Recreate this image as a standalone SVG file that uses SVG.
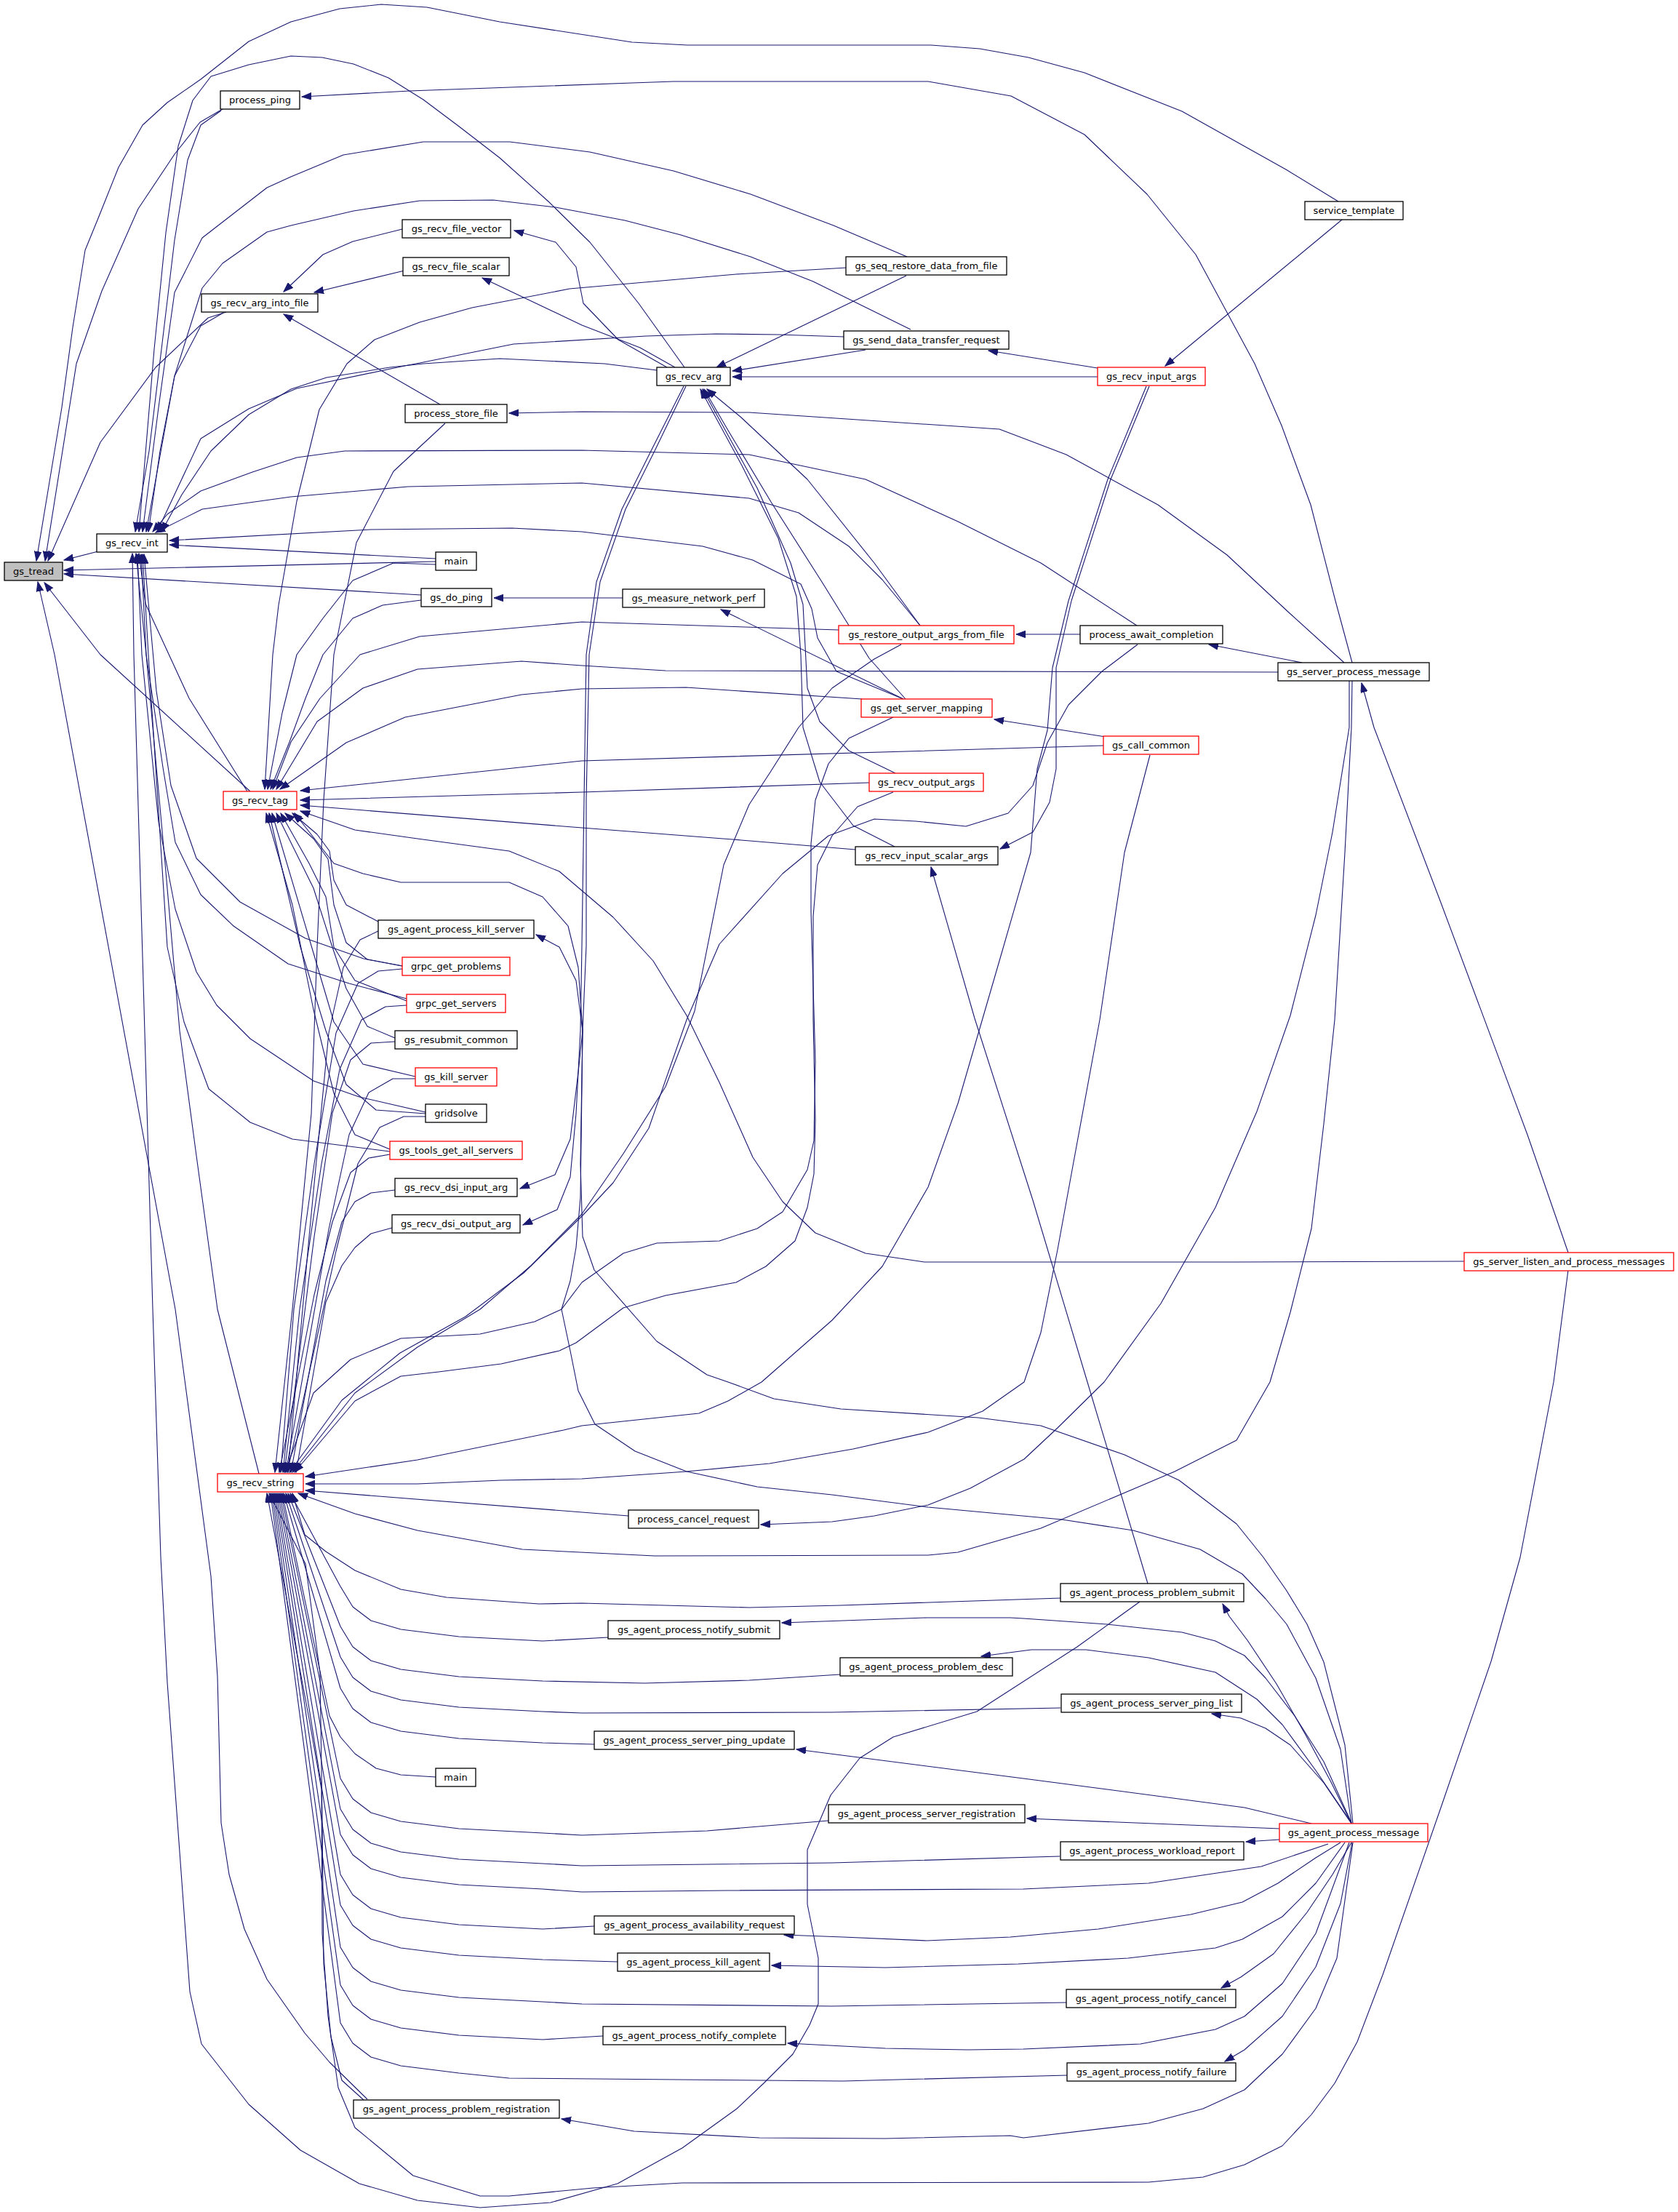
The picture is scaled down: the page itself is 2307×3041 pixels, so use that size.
<svg xmlns="http://www.w3.org/2000/svg" width="2307" height="3041" viewBox="0 0 2307 3041">
<style>
.n rect{fill:#fff;stroke:#000;stroke-width:1.3}
.r rect{fill:#fff;stroke:#ff0000;stroke-width:1.3}
.root rect{fill:#bfbfbf;stroke:#000;stroke-width:1.3}
text{font-family:"DejaVu Sans","Liberation Sans",sans-serif;font-size:13px;fill:#000;text-anchor:middle}
#edges path{fill:none;stroke:#191970;stroke-width:1.1;stroke-linejoin:round;marker-end:url(#a)}
</style>
<defs>
<marker id="a" markerWidth="14" markerHeight="10" refX="13" refY="4.75" orient="auto" markerUnits="userSpaceOnUse"><path d="M0,0L13,4.75L0,9.5z" fill="#191970" stroke="#191970" stroke-width="1"/></marker>
</defs>
<rect width="2307" height="3041" fill="#fff"/>
<g id="edges">
<!-- to gs_tread -->
<path d="M135,758L88,770"/>
<path d="M599,772L88,784"/>
<path d="M579,818L88,789"/>
<path d="M344,1088L138,900L61,801"/>
<path d="M505,2886L453,2835L419,2795L367,2721L336,2652L315,2577L304,2506L299,2305L290,2167L241,1800L75,900L52,800"/>
<path d="M306,150L275,168L240,212L190,287L140,400L105,500L62,771"/>
<path d="M311,429L286,437L214,505L138,608L66,771"/>
<path d="M1840,277L1768,233L1625,153L1491,100L1414,79L1347,67L1280,62L945,62L869,58L687,30L587,10L524,6L467,12L400,30L342,57L276,109L230,141L196,172L163,230L135,300L117,344L100,450L85,560L50,771"/>
<!-- to gs_recv_int -->
<path d="M304,152L276,172L258,220L240,330L222,480L205,620L186,731"/>
<path d="M941,505L878,417L811,333L754,277L687,217L630,173L582,137L534,107L486,88L443,79L400,77L342,89L290,105L265,138L245,201L228,320L212,480L191,731"/>
<path d="M1247,353L1146,310L1032,267L926,235L811,209L701,195L582,195L472,213L400,243L367,258L278,327L240,402L218,560L196,731"/>
<path d="M1252,453L1118,387L1032,353L936,323L859,303L764,285L678,275L577,276L486,290L400,310L367,319L306,362L278,396L240,517L201,731"/>
<path d="M1161,463L1070,460L984,459L888,462L706,473L572,500L561,502L408,534L342,562L276,603L216,731"/>
<path d="M903,509L831,500L687,493L582,500L536,505L449,519L400,535L342,570L290,620L250,680L222,731"/>
<path d="M1563,860L1431,774L1317,717L1190,659L1030,625L800,619L474,620L408,629L347,649L276,675L230,707L210,731"/>
<path d="M1265,860L1213,797L1167,751L1098,705L1030,685L800,664L561,669L400,683L278,700L214,732"/>
<path d="M307,430L276,448L240,517L220,620L204,731"/>
<path d="M599,768L233,749"/>
<path d="M1242,961L1150,923L1124,877L1116,837L1101,803L1035,770L966,751L800,731L704,726L510,728L233,743"/>
<path d="M1567,2202L1481,2264L1343,2353L1228,2388L1182,2417L1142,2468L1110,2543L1110,2618L1125,2692L1125,2755L1113,2784L1090,2824L1050,2864L1013,2899L938,2953L849,3002L757,3028L660,3035L574,3025L494,3002L413,2956L342,2893L277,2810L261,2738L230,2313L221,2141L210,1800L184,900L182,761"/>
<path d="M340,1088L260,960L200,830L191,761"/>
<path d="M356,2026L299,1800L270,1589L247,1417L227,1187L201,900L187,761"/>
<path d="M553,1328L500,1318L420,1290L330,1240L270,1180L235,1080L215,950L198,762"/>
<path d="M559,1373L480,1352L396,1325L321,1273L276,1230L241,1158L224,1055L201,900L194,762"/>
<path d="M585,1529L494,1508L431,1486L344,1428L298,1382L270,1336L241,1250L218,1130L195,900L189,762"/>
<path d="M536,1583L402,1566L344,1543L287,1497L253,1405L230,1302L204,900L196,762"/>
<!-- to gs_recv_tag -->
<path d="M1517,1025L800,1046L413,1087"/>
<path d="M1195,1076L800,1089L413,1100"/>
<path d="M1176,1168L1007,1154L800,1138L413,1107"/>
<path d="M1757,924L915,922L800,915L717,909L574,920L499,946L436,992L380,1085"/>
<path d="M1185,961L943,945L800,947L717,955L557,986L476,1021L385,1085"/>
<path d="M1153,866L800,855L577,875L495,900L440,960L400,1020L375,1085"/>
<path d="M599,776L541,774L485,798L444,850L408,900L388,980L368,1085"/>
<path d="M579,825L526,832L485,850L444,900L420,960L398,1020L372,1085"/>
<path d="M1164,368L1012,377L898,387L783,397L649,423L577,443L515,467L477,500L439,563L408,689L383,832L375,900L364,1085"/>
<path d="M2013,1734L1700,1735L1271,1735L1190,1723L1121,1695L1076,1652L1035,1591L989,1488L944,1396L898,1321L843,1261L769,1198L700,1170L574,1153L488,1141L413,1115"/>
<path d="M1860,2507L1849,2399L1820,2285L1797,2233L1769,2187L1737,2141L1700,2095L1621,2035L1546,2000L1431,1960L1345,1949L1156,1937L1064,1923L1001,1900L972,1890L903,1844L817,1746L801,1700L798,1600L801,1417L795,1330L781,1273L746,1233L700,1213L551,1213L499,1201L459,1187L405,1118"/>
<path d="M520,1267L476,1244L459,1210L453,1170L436,1147L402,1118"/>
<path d="M553,1328L505,1319L476,1296L459,1244L451,1181L431,1153L392,1118"/>
<path d="M559,1376L488,1348L459,1302L448,1233L425,1187L386,1118"/>
<path d="M543,1427L505,1411L476,1359L453,1290L431,1221L380,1118"/>
<path d="M571,1480L499,1463L459,1405L425,1290L374,1118"/>
<path d="M585,1531L517,1526L476,1491L448,1417L413,1302L370,1118"/>
<path d="M536,1580L488,1560L459,1503L431,1388L402,1244L366,1118"/>
<!-- to gs_recv_string (top/right) -->
<path d="M612,582L541,648L490,746L459,900L445,1100L436,1302L428,1531L402,1800L378,2024"/>
<path d="M1239,886L1202,906L1144,946L1098,1000L1060,1060L1030,1106L995,1189L955,1390L915,1494L857,1586L800,1669L730,1740L660,1800L574,1852L488,1915L402,2024"/>
<path d="M1564,886L1515,923L1469,969L1440,1021L1420,1080L1386,1118L1328,1136L1259,1129L1202,1126L1139,1149L1076,1201L989,1298L944,1402L892,1551L843,1626L800,1672L720,1750L640,1810L550,1860L470,1925L398,2024"/>
<path d="M1228,986L1167,1015L1139,1050L1121,1100L1115,1160L1115,1253L1121,1459L1119,1568L1110,1608L1076,1666L1041,1689L989,1706L903,1709L857,1723L800,1763L772,1800L735,1817L660,1834L551,1840L482,1869L431,1915L392,2024"/>
<path d="M1228,1089L1179,1109L1144,1149L1124,1189L1118,1260L1118,1402L1121,1540L1119,1614L1110,1660L1093,1706L1053,1741L1012,1763L915,1781L857,1798L792,1846L769,1857L689,1875L603,1886L551,1892L488,1926L405,2024"/>
<path d="M1576,531L1523,659L1469,826L1447,918L1440,1004L1426,1057L1417,1172L1374,1321L1317,1517L1276,1632L1213,1741L1144,1815L1047,1900L1001,1926L961,1943L800,1960L775,1966L574,2007L420,2030"/>
<path d="M1581,1038L1546,1172L1512,1402L1475,1603L1454,1718L1431,1832L1408,1900L1351,1940L1276,1969L1173,1992L1058,2012L944,2023L800,2033L689,2035L574,2040L420,2040"/>
<path d="M864,2084L420,2049"/>
<path d="M520,1280L495,1292L472,1330L452,1420L425,1700L396,2024"/>
<path d="M553,1332L520,1335L492,1352L462,1420L432,1600L404,1800L386,2024"/>
<path d="M559,1382L530,1384L497,1402L467,1470L442,1600L412,1800L389,2024"/>
<path d="M543,1432L510,1434L482,1457L457,1530L432,1700L391,2024"/>
<path d="M571,1483L540,1483L507,1502L480,1560L452,1690L393,2024"/>
<path d="M585,1535L555,1535L522,1550L492,1600L462,1720L395,2024"/>
<path d="M536,1587L507,1592L482,1612L457,1680L432,1780L384,2024"/>
<path d="M543,1636L510,1640L488,1652L470,1680L448,1761L400,2024"/>
<path d="M539,1688L510,1696L488,1715L470,1740L448,1790L407,2024"/>
<!-- to gs_recv_string (bottom) -->
<path d="M1859,936L1858,1000L1849,1172L1835,1402L1820,1545L1803,1689L1774,1804L1746,1900L1700,1980L1615,2023L1431,2101L1317,2134L1276,2138L900,2139L718,2130L574,2104L488,2081L410,2053"/>
<path d="M1458,2197L1156,2207L1030,2210L800,2204L741,2205L614,2196L551,2185L488,2159L448,2133L419,2110L402,2053"/>
<path d="M836,2251L746,2256L631,2250L551,2240L510,2228L485,2209L468,2181L399,2053"/>
<path d="M1155,2302L1030,2310L886,2314L746,2311L631,2305L551,2295L510,2283L485,2264L468,2236L396,2053"/>
<path d="M1458,2348L1144,2354L800,2355L746,2353L631,2347L551,2337L510,2325L485,2306L468,2278L393,2053"/>
<path d="M817,2398L746,2396L631,2390L551,2380L510,2368L485,2349L468,2321L390,2053"/>
<path d="M599,2443L551,2440L517,2431L488,2411L468,2388L453,2359L388,2053"/>
<path d="M1139,2503L972,2517L800,2523L746,2520L631,2514L551,2504L510,2492L485,2473L468,2445L386,2053"/>
<path d="M1457,2552L1144,2561L800,2565L746,2562L631,2556L551,2546L510,2534L485,2515L468,2487L384,2053"/>
<path d="M1826,2535L1734,2566L1579,2589L1407,2597L1000,2599L800,2601L746,2597L631,2591L551,2581L510,2569L485,2550L468,2522L382,2053"/>
<path d="M817,2648L746,2652L631,2646L551,2636L510,2624L485,2605L468,2577L380,2053"/>
<path d="M849,2697L746,2694L631,2688L551,2678L510,2666L485,2647L468,2619L378,2053"/>
<path d="M1466,2753L1144,2758L800,2755L746,2752L631,2746L551,2736L510,2724L485,2705L468,2677L376,2053"/>
<path d="M829,2799L746,2804L631,2798L551,2788L510,2776L485,2757L468,2729L374,2053"/>
<path d="M1468,2853L1159,2861L700,2857L631,2850L551,2840L510,2828L485,2809L468,2781L372,2053"/>
<path d="M500,2887L470,2860L455,2800L445,2700L443,2500L440,2300L420,2150L370,2053"/>
<path d="M2156,1746L2136,1900L2090,2141L2050,2284L1981,2485L1901,2715L1866,2807L1835,2864L1803,2907L1763,2950L1711,2976L1654,2993L1579,3000L938,3001L815,3008L700,3019L660,3019L568,2991L488,2925L465,2870L451,2772L443,2658L442,2460L425,2363L367,2053"/>
<!-- gs_recv_arg and neighbours -->
<path d="M1509,518L1007,518"/>
<path d="M1190,481L1007,510"/>
<path d="M1246,379L985,505"/>
<path d="M1265,860L1202,774L1110,659L1018,573L972,535"/>
<path d="M1245,961L1195,905L1130,800L1060,690L1000,590L968,535"/>
<path d="M1231,1063L1167,1032L1127,992L1110,946L1104,831L1087,774L1041,671L966,535"/>
<path d="M1230,1164L1173,1135L1127,1075L1104,1000L1101,900L1095,820L1070,740L1020,640L963,535"/>
<path d="M917,505L850,467L802,417L792,367L764,333L707,317"/>
<path d="M928,505L880,478L800,447L663,382"/>
<path d="M943,531L900,620L860,700L825,800L810,900L806,1100L806,1300L801,1417L795,1474L784,1566L763,1615L715,1634"/>
<path d="M940,531L895,620L855,700L820,800L806,900L803,1100L800,1300L798,1417L792,1531L784,1618L766,1663L719,1684"/>
<path d="M553,315L485,332L444,350L390,401"/>
<path d="M556,372L432,402"/>
<path d="M605,556L390,432"/>
<path d="M856,822L679,822"/>
<path d="M1242,961L991,838"/>
<path d="M1485,872L1397,872"/>
<path d="M1520,1013L1367,989"/>
<path d="M1509,506L1359,482"/>
<path d="M1845,302L1602,503"/>
<path d="M1580,531L1527,659L1473,826L1452,918L1452,1004L1452,1057L1443,1103L1420,1144L1375,1167"/>
<path d="M1578,2177L1495,1900L1420,1650L1340,1400L1280,1192"/>
<!-- gs_server_process_message -->
<path d="M1790,911L1662,886"/>
<path d="M1848,911L1773,843L1687,763L1592,694L1466,625L1374,590L1030,567L800,566L700,568"/>
<path d="M1859,911L1836,826L1802,694L1762,585L1725,500L1644,350L1577,267L1491,185L1390,132L1276,112L926,112L869,114L563,125L415,133"/>
<path d="M1855,936L1855,1000L1832,1144L1809,1258L1774,1396L1728,1528L1671,1660L1596,1792L1518,1900L1454,1963L1408,2006L1334,2046L1276,2069L1202,2084L1144,2092L1046,2096"/>
<path d="M2156,1722L2100,1560L1981,1241L1889,1000L1872,939"/>
<!-- gs_agent_process_message -->
<path d="M1858,2507L1830,2450L1795,2385L1755,2315L1715,2255L1690,2222L1681,2205"/>
<path d="M1858,2507L1820,2451L1774,2399L1740,2376L1706,2362L1666,2356"/>
<path d="M1858,2506L1820,2422L1780,2359L1740,2307L1711,2276L1671,2256L1625,2244L1522,2233L1407,2225L1389,2224L1274,2224L1075,2231"/>
<path d="M1858,2506L1809,2434L1763,2371L1728,2336L1671,2299L1579,2279L1493,2268L1418,2268L1349,2277"/>
<path d="M1803,2507L1711,2485L1522,2460L1407,2445L1095,2405"/>
<path d="M1759,2514L1412,2500"/>
<path d="M1759,2529L1713,2532"/>
<path d="M1843,2533L1809,2554L1757,2589L1708,2615L1637,2632L1510,2652L1389,2663L1274,2668L1159,2663L1078,2660"/>
<path d="M1849,2533L1809,2589L1763,2635L1708,2666L1671,2678L1551,2692L1400,2700L1217,2705L1061,2702"/>
<path d="M1858,2533L1832,2577L1797,2629L1751,2686L1706,2718L1679,2733"/>
<path d="M1855,2533L1809,2658L1763,2727L1711,2772L1671,2790L1568,2810L1407,2817L1331,2818L1217,2816L1083,2809"/>
<path d="M1859,2533L1843,2617L1809,2704L1763,2772L1711,2818L1684,2834"/>
<path d="M1860,2533L1838,2692L1809,2761L1763,2824L1711,2873L1654,2899L1579,2919L1407,2939L1389,2936L1217,2940L1044,2939L872,2930L772,2913"/>
<path d="M1858,2506L1843,2405L1809,2307L1769,2233L1740,2198L1708,2164L1650,2130L1558,2104L1460,2089L1276,2072L1144,2055L1041,2044L944,2023L873,1995L818,1958L795,1912L784,1857L772,1800L784,1761L792,1715L798,1646L801,1417L792,1348L769,1302L737,1285"/>
</g>
<g id="n_gs_tread" class="root"><rect x="6" y="773" width="80" height="25"/><text x="46" y="790">gs_tread</text></g>
<g id="n_gs_recv_int" class="n"><rect x="133" y="734" width="97" height="25"/><text x="181.5" y="751">gs_recv_int</text></g>
<g id="n_process_ping" class="n"><rect x="303" y="125" width="109" height="25"/><text x="357.5" y="142">process_ping</text></g>
<g id="n_gs_recv_file_vector" class="n"><rect x="553" y="302" width="149" height="25"/><text x="627.5" y="319">gs_recv_file_vector</text></g>
<g id="n_gs_recv_file_scalar" class="n"><rect x="554" y="354" width="146" height="25"/><text x="627" y="371">gs_recv_file_scalar</text></g>
<g id="n_gs_recv_arg_into_file" class="n"><rect x="277" y="404" width="160" height="25"/><text x="357" y="421">gs_recv_arg_into_file</text></g>
<g id="n_process_store_file" class="n"><rect x="557" y="556" width="140" height="25"/><text x="627" y="573">process_store_file</text></g>
<g id="n_main1" class="n"><rect x="599" y="759" width="56" height="25"/><text x="627" y="776">main</text></g>
<g id="n_gs_do_ping" class="n"><rect x="579" y="809" width="97" height="25"/><text x="627.5" y="826">gs_do_ping</text></g>
<g id="n_gs_seq_restore_data_from_file" class="n"><rect x="1163" y="353" width="221" height="25"/><text x="1273.5" y="370">gs_seq_restore_data_from_file</text></g>
<g id="n_gs_send_data_transfer_request" class="n"><rect x="1160" y="455" width="227" height="25"/><text x="1273.5" y="472">gs_send_data_transfer_request</text></g>
<g id="n_gs_recv_arg" class="n"><rect x="903" y="505" width="101" height="25"/><text x="953.5" y="522">gs_recv_arg</text></g>
<g id="n_gs_recv_input_args" class="r"><rect x="1509" y="505" width="148" height="25"/><text x="1583" y="522">gs_recv_input_args</text></g>
<g id="n_service_template" class="n"><rect x="1794" y="277" width="135" height="25"/><text x="1861.5" y="294">service_template</text></g>
<g id="n_gs_measure_network_perf" class="n"><rect x="856" y="810" width="195" height="25"/><text x="953.5" y="827">gs_measure_network_perf</text></g>
<g id="n_gs_restore_output_args_from_file" class="r"><rect x="1153" y="860" width="241" height="25"/><text x="1273.5" y="877">gs_restore_output_args_from_file</text></g>
<g id="n_process_await_completion" class="n"><rect x="1485" y="860" width="196" height="25"/><text x="1583" y="877">process_await_completion</text></g>
<g id="n_gs_server_process_message" class="n"><rect x="1757" y="911" width="208" height="25"/><text x="1861" y="928">gs_server_process_message</text></g>
<g id="n_gs_get_server_mapping" class="r"><rect x="1184" y="961" width="180" height="25"/><text x="1274" y="978">gs_get_server_mapping</text></g>
<g id="n_gs_call_common" class="r"><rect x="1517" y="1012" width="131" height="25"/><text x="1582.5" y="1029">gs_call_common</text></g>
<g id="n_gs_recv_output_args" class="r"><rect x="1195" y="1063" width="157" height="25"/><text x="1273.5" y="1080">gs_recv_output_args</text></g>
<g id="n_gs_recv_input_scalar_args" class="n"><rect x="1176" y="1164" width="196" height="25"/><text x="1274" y="1181">gs_recv_input_scalar_args</text></g>
<g id="n_gs_recv_tag" class="r"><rect x="307" y="1088" width="101" height="25"/><text x="357.5" y="1105">gs_recv_tag</text></g>
<g id="n_gs_agent_process_kill_server" class="n"><rect x="520" y="1265" width="214" height="25"/><text x="627" y="1282">gs_agent_process_kill_server</text></g>
<g id="n_grpc_get_problems" class="r"><rect x="553" y="1316" width="148" height="25"/><text x="627" y="1333">grpc_get_problems</text></g>
<g id="n_grpc_get_servers" class="r"><rect x="559" y="1367" width="136" height="25"/><text x="627" y="1384">grpc_get_servers</text></g>
<g id="n_gs_resubmit_common" class="n"><rect x="543" y="1417" width="168" height="25"/><text x="627" y="1434">gs_resubmit_common</text></g>
<g id="n_gs_kill_server" class="r"><rect x="571" y="1468" width="112" height="25"/><text x="627" y="1485">gs_kill_server</text></g>
<g id="n_gridsolve" class="n"><rect x="585" y="1518" width="84" height="25"/><text x="627" y="1535">gridsolve</text></g>
<g id="n_gs_tools_get_all_servers" class="r"><rect x="536" y="1569" width="182" height="25"/><text x="627" y="1586">gs_tools_get_all_servers</text></g>
<g id="n_gs_recv_dsi_input_arg" class="n"><rect x="543" y="1620" width="168" height="25"/><text x="627" y="1637">gs_recv_dsi_input_arg</text></g>
<g id="n_gs_recv_dsi_output_arg" class="n"><rect x="539" y="1670" width="176" height="25"/><text x="627" y="1687">gs_recv_dsi_output_arg</text></g>
<g id="n_gs_server_listen_and_process_messages" class="r"><rect x="2013" y="1722" width="288" height="25"/><text x="2157" y="1739">gs_server_listen_and_process_messages</text></g>
<g id="n_gs_recv_string" class="r"><rect x="299" y="2026" width="118" height="25"/><text x="358" y="2043">gs_recv_string</text></g>
<g id="n_process_cancel_request" class="n"><rect x="864" y="2076" width="179" height="25"/><text x="953.5" y="2093">process_cancel_request</text></g>
<g id="n_gs_agent_process_problem_submit" class="n"><rect x="1458" y="2177" width="252" height="25"/><text x="1584" y="2194">gs_agent_process_problem_submit</text></g>
<g id="n_gs_agent_process_notify_submit" class="n"><rect x="836" y="2228" width="236" height="25"/><text x="954" y="2245">gs_agent_process_notify_submit</text></g>
<g id="n_gs_agent_process_problem_desc" class="n"><rect x="1155" y="2279" width="237" height="25"/><text x="1273.5" y="2296">gs_agent_process_problem_desc</text></g>
<g id="n_gs_agent_process_server_ping_list" class="n"><rect x="1459" y="2329" width="248" height="25"/><text x="1583" y="2346">gs_agent_process_server_ping_list</text></g>
<g id="n_gs_agent_process_server_ping_update" class="n"><rect x="817" y="2380" width="275" height="25"/><text x="954.5" y="2397">gs_agent_process_server_ping_update</text></g>
<g id="n_main2" class="n"><rect x="599" y="2431" width="55" height="25"/><text x="626.5" y="2448">main</text></g>
<g id="n_gs_agent_process_server_registration" class="n"><rect x="1139" y="2481" width="270" height="25"/><text x="1274" y="2498">gs_agent_process_server_registration</text></g>
<g id="n_gs_agent_process_message" class="r"><rect x="1759" y="2507" width="204" height="25"/><text x="1861" y="2524">gs_agent_process_message</text></g>
<g id="n_gs_agent_process_workload_report" class="n"><rect x="1458" y="2532" width="252" height="25"/><text x="1584" y="2549">gs_agent_process_workload_report</text></g>
<g id="n_gs_agent_process_availability_request" class="n"><rect x="817" y="2634" width="275" height="25"/><text x="954.5" y="2651">gs_agent_process_availability_request</text></g>
<g id="n_gs_agent_process_kill_agent" class="n"><rect x="849" y="2685" width="209" height="25"/><text x="953.5" y="2702">gs_agent_process_kill_agent</text></g>
<g id="n_gs_agent_process_notify_cancel" class="n"><rect x="1466" y="2735" width="233" height="25"/><text x="1582.5" y="2752">gs_agent_process_notify_cancel</text></g>
<g id="n_gs_agent_process_notify_complete" class="n"><rect x="829" y="2786" width="251" height="25"/><text x="954.5" y="2803">gs_agent_process_notify_complete</text></g>
<g id="n_gs_agent_process_notify_failure" class="n"><rect x="1467" y="2836" width="232" height="25"/><text x="1583" y="2853">gs_agent_process_notify_failure</text></g>
<g id="n_gs_agent_process_problem_registration" class="n"><rect x="486" y="2887" width="283" height="25"/><text x="627.5" y="2904">gs_agent_process_problem_registration</text></g>
</svg>
